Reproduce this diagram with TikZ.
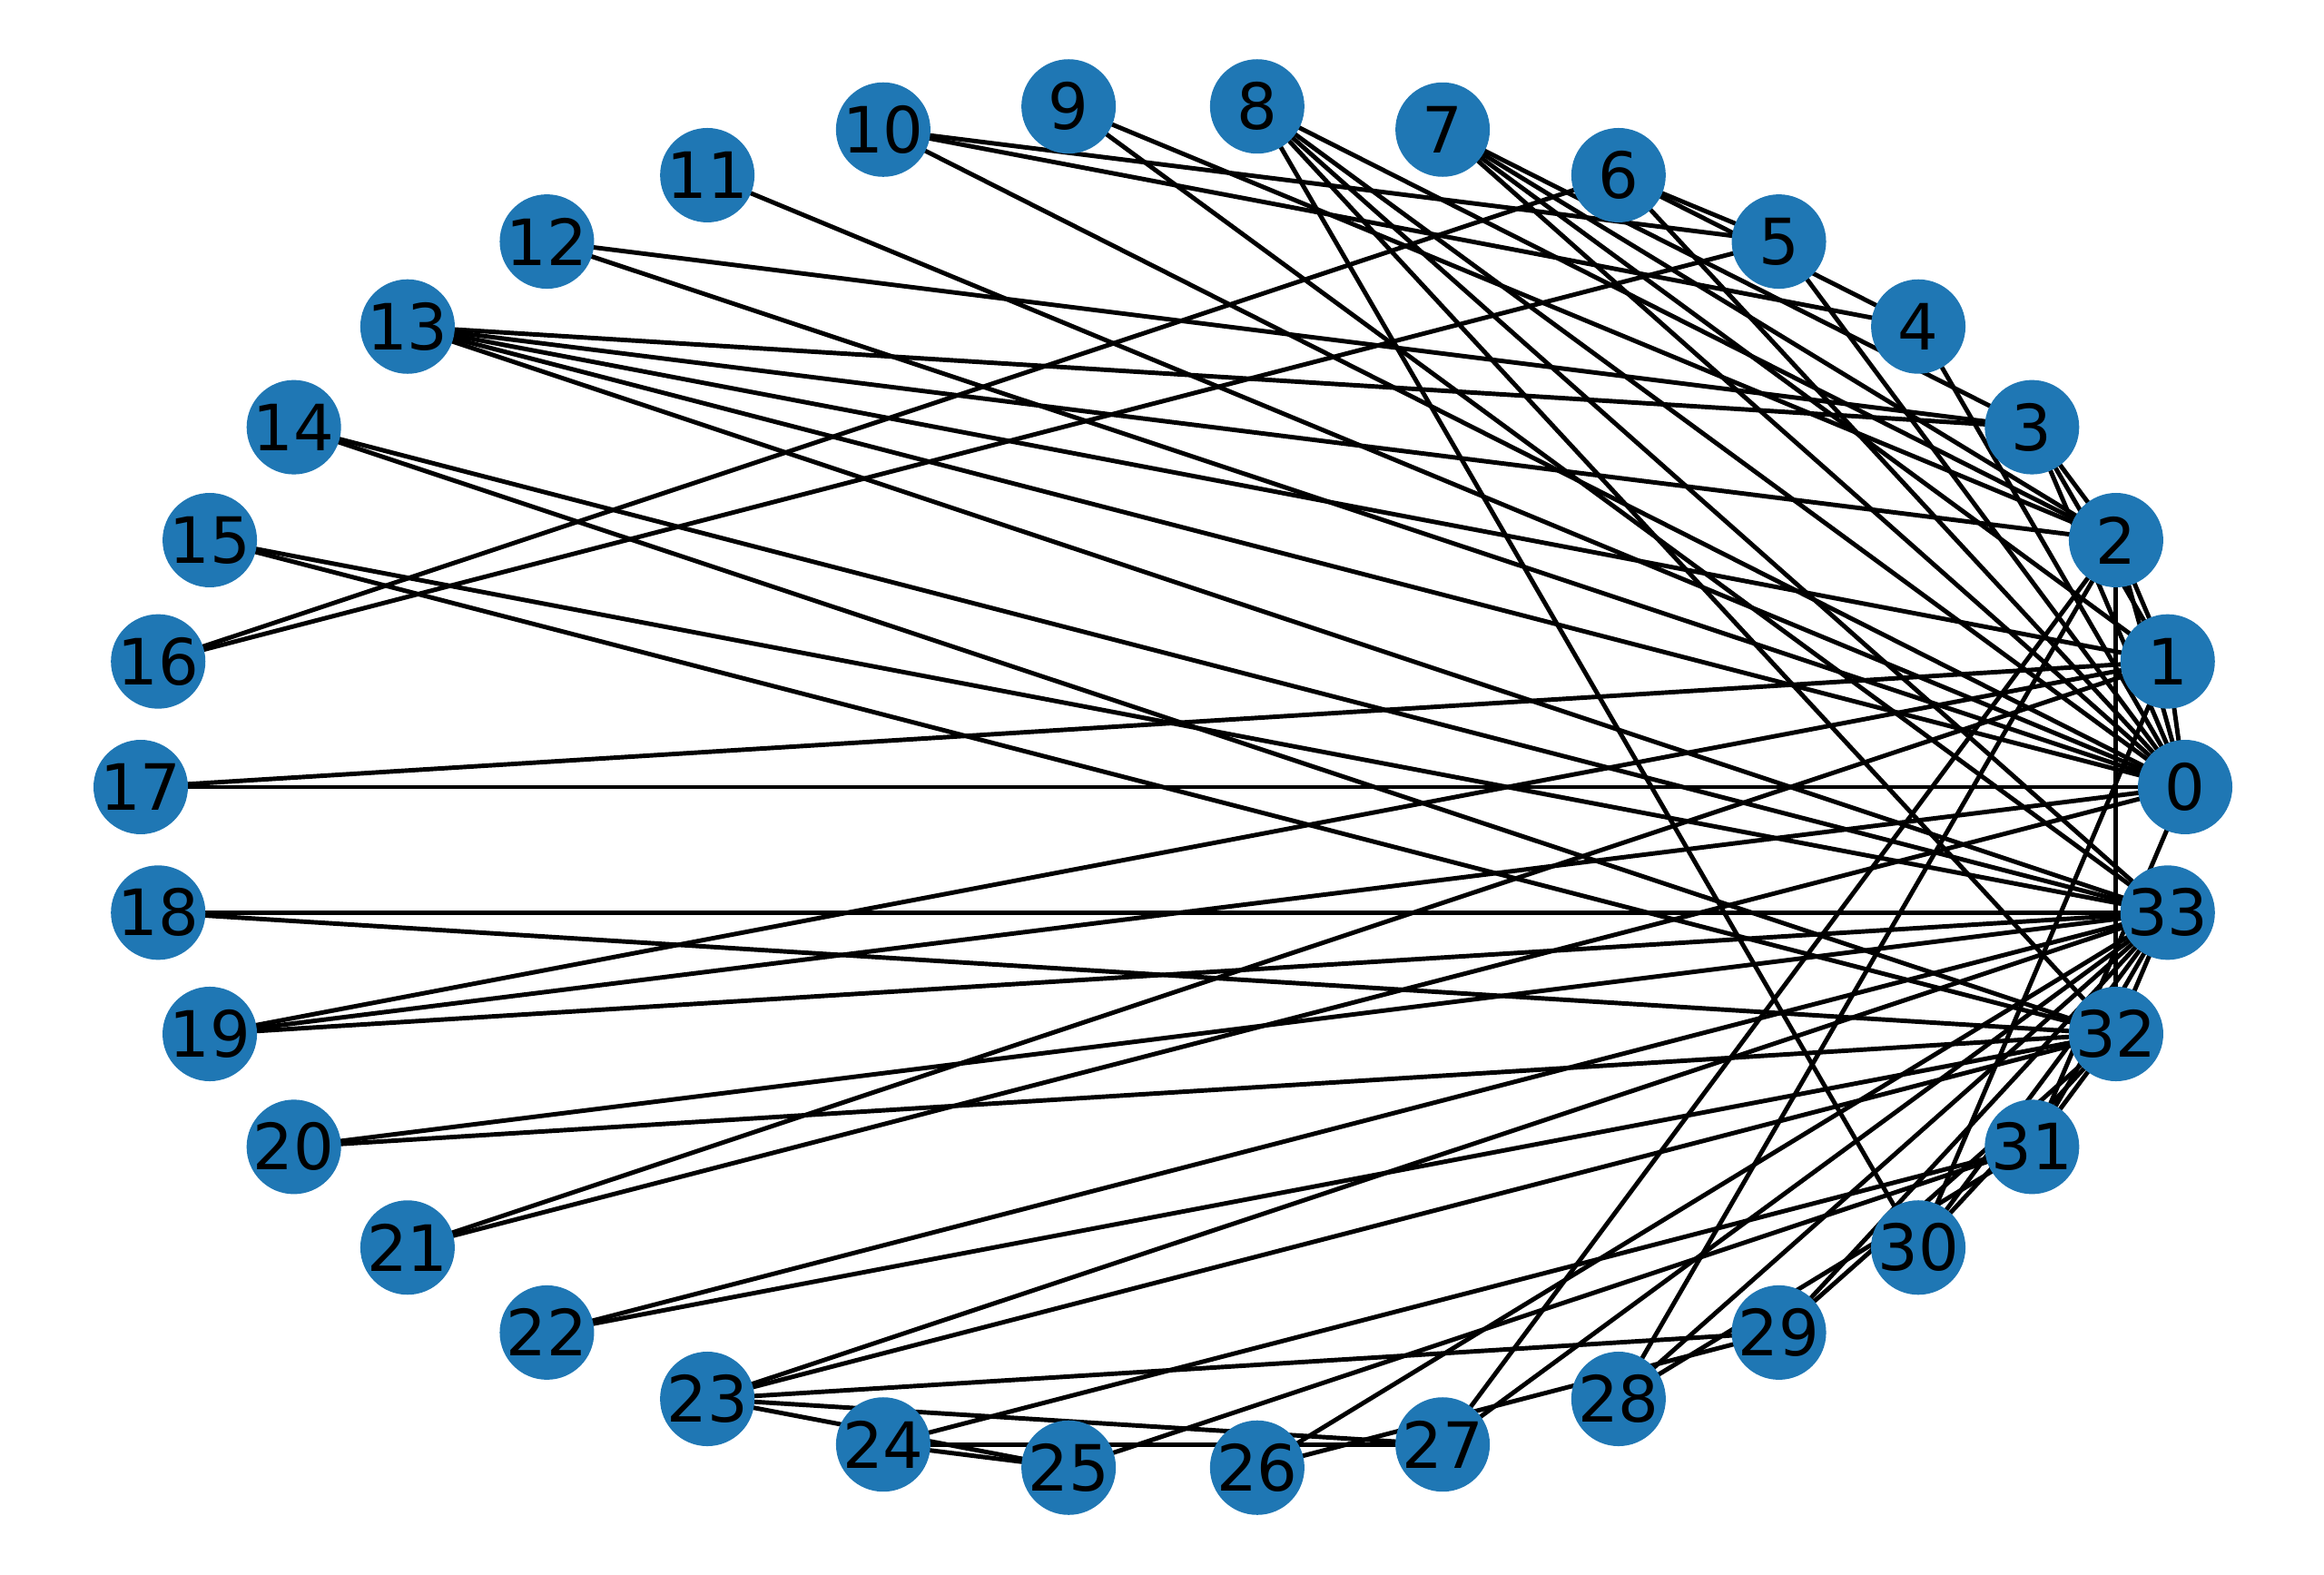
\documentclass[tikz,border=0pt]{standalone}
\usepackage{fontspec}
\setmainfont{DejaVu Sans}
\usetikzlibrary{backgrounds}
\definecolor{tabblue}{HTML}{1F77B4}
\tikzset{
  vtx/.style={circle, fill=tabblue, draw=none, minimum size=1.04cm, inner sep=0pt, font=\fontsize{20}{24}\selectfont, text=black},
  edge/.style={draw=black, line width=1.4pt}
}
\begin{document}
\begin{tikzpicture}
\useasboundingbox (0,0) rectangle (25.6,17.34);
\foreach \i in {0,...,33}{
  \node[vtx] (n\i) at ({12.81+11.26*cos(360*\i/34)}, {8.67+7.53*sin(360*\i/34)}) {\i};
}
\begin{scope}[on background layer]
\foreach \a/\b in {0/1,0/2,0/3,0/4,0/5,0/6,0/7,0/8,0/10,0/11,0/12,0/13,0/17,0/19,0/21,0/31,
 1/2,1/3,1/7,1/13,1/17,1/19,1/21,1/30,
 2/3,2/7,2/8,2/9,2/13,2/27,2/28,2/32,
 3/7,3/12,3/13,
 4/6,4/10,
 5/6,5/10,5/16,
 6/16,
 8/30,8/32,8/33,
 9/33,13/33,14/32,14/33,15/32,15/33,18/32,18/33,19/33,20/32,20/33,22/32,22/33,
 23/25,23/27,23/29,23/32,23/33,
 24/25,24/27,24/31,
 25/31,26/29,26/33,27/33,28/31,28/33,29/32,29/33,30/32,30/33,31/32,31/33,32/33}{
  \draw[edge] (n\a.center) -- (n\b.center);
}
\end{scope}
\end{tikzpicture}
\end{document}
